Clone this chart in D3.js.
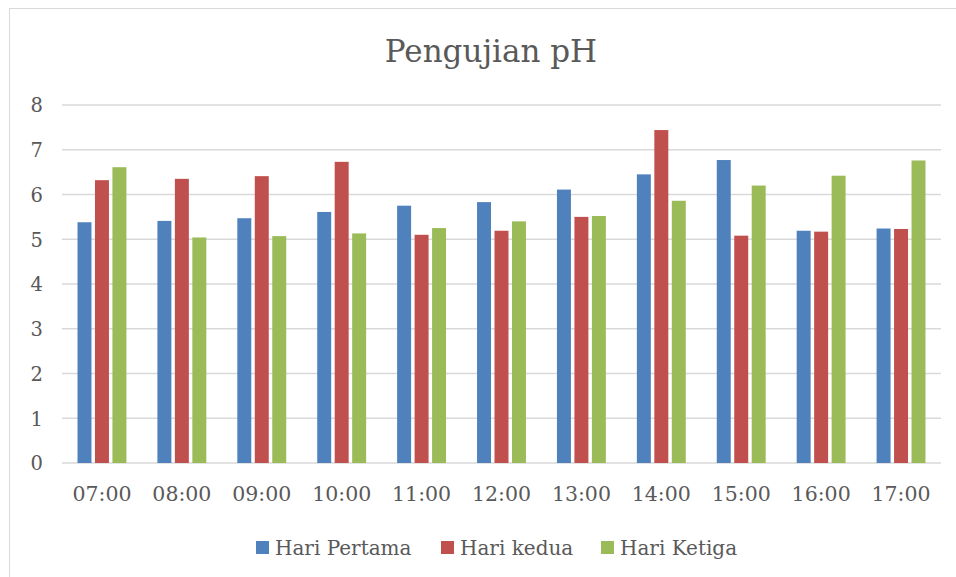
<!DOCTYPE html>
<html><head><meta charset="utf-8">
<script src="https://cdn.jsdelivr.net/npm/d3@7"></script>
<style>body{margin:0;background:#fff}svg{display:block}</style>
</head><body>
<svg id="c" width="956" height="577"></svg>
<script>
const categories = ["07:00","08:00","09:00","10:00","11:00","12:00","13:00","14:00","15:00","16:00","17:00"];
const seriesNames = ["Hari Pertama","Hari kedua","Hari Ketiga"];
const hariPertama = [5.38,5.41,5.47,5.61,5.75,5.83,6.11,6.45,6.77,5.19,5.24];
const hariKedua   = [6.32,6.35,6.41,6.73,5.10,5.19,5.50,7.44,5.08,5.17,5.23];
const hariKetiga  = [6.61,5.04,5.07,5.13,5.25,5.40,5.52,5.86,6.20,6.42,6.76];
const yTicks = [0,1,2,3,4,5,6,7,8];
const colors = ["#4F81BD","#C0504D","#9BBB59"];
const seriesValues = [hariPertama,hariKedua,hariKetiga];

const svg = d3.select("#c");
const font = "'DejaVu Serif', serif";
const txt = "#595959";

svg.append("rect").attr("x",9.5).attr("y",8.5).attr("width",1000).attr("height",1000)
  .attr("fill","#fff").attr("stroke","#d9d9d9").attr("stroke-width",1);

const x0 = d3.scaleBand().domain(categories).range([62,941]).paddingInner(0).paddingOuter(0);
const x1 = d3.scaleBand().domain(seriesNames).range([15.5, x0.bandwidth()-15.5]).paddingInner(0.2).paddingOuter(0);
const y = d3.scaleLinear().domain([0,8]).range([463,105]);

// grid
svg.append("g").selectAll("line").data(yTicks).join("line")
  .attr("x1",62).attr("x2",941).attr("y1",d=>y(d)).attr("y2",d=>y(d))
  .attr("stroke","#d9d9d9").attr("stroke-width",1.4);

// bars
const g = svg.append("g");
categories.forEach((c,i)=>{
  seriesNames.forEach((s,j)=>{
    const v = seriesValues[j][i];
    g.append("rect").attr("x",x0(c)+x1(s)).attr("width",x1.bandwidth())
     .attr("y",y(v)).attr("height",y(0)-y(v)).attr("fill",colors[j]);
  });
});

// y axis labels
const yAxis = d3.axisLeft(y).tickValues(yTicks).tickSize(0).tickPadding(0);
const ya = svg.append("g").attr("transform","translate(43,0)").call(yAxis);
ya.select(".domain").remove();
ya.selectAll("text").attr("font-family",font).attr("font-size",19.5).attr("fill",txt).attr("dy","0.35em");

// x axis labels
const xAxis = d3.axisBottom(x0).tickSize(0).tickPadding(0);
const xa = svg.append("g").attr("transform","translate(0,494)").call(xAxis);
xa.select(".domain").remove();
xa.selectAll("text").attr("font-family",font).attr("font-size",20.5).attr("fill",txt).attr("dy","0.35em");

// title
svg.append("text").attr("x",491).attr("y",62).attr("text-anchor","middle")
  .attr("font-family",font).attr("font-size",31).attr("fill",txt).text("Pengujian pH");

// legend
const legX = [256,441,601];
const lg = svg.append("g");
seriesNames.forEach((s,j)=>{
  lg.append("rect").attr("x",legX[j]).attr("y",541).attr("width",13).attr("height",13).attr("fill",colors[j]);
  lg.append("text").attr("x",legX[j]+19).attr("y",547.5).attr("dy","0.35em")
    .attr("font-family",font).attr("font-size",20).attr("fill",txt).text(s);
});
</script>
</body></html>
